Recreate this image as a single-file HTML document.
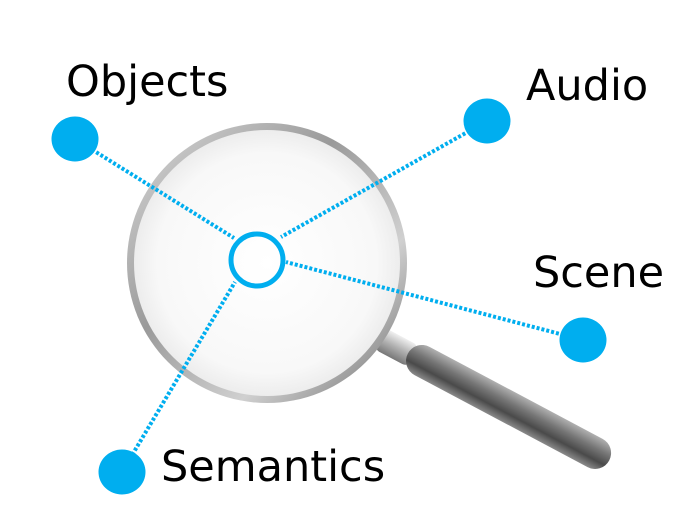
<!DOCTYPE html>
<html><head><meta charset="utf-8"><style>
html,body{margin:0;padding:0;background:#fff;}
svg{display:block}
text{font-family:"DejaVu Sans","Liberation Sans",sans-serif;font-size:43px;fill:#000}
</style></head><body>
<svg width="693" height="526" viewBox="0 0 693 526" xmlns="http://www.w3.org/2000/svg">
<defs>
<radialGradient id="glass" cx="0.5" cy="0.5" r="0.55">
<stop offset="0" stop-color="#ffffff"/><stop offset="0.75" stop-color="#f8f8f8"/><stop offset="1" stop-color="#e6e6e6"/>
</radialGradient>
<linearGradient id="rim" x1="0" y1="0" x2="1" y2="1">
<stop offset="0" stop-color="#dadada"/><stop offset="0.4" stop-color="#9a9a9a"/><stop offset="0.7" stop-color="#d0d0d0"/><stop offset="1" stop-color="#6a6a6a"/>
</linearGradient>
<linearGradient id="handle" x1="0" y1="0" x2="0" y2="1">
<stop offset="0" stop-color="#b0b0b0"/><stop offset="0.35" stop-color="#777"/><stop offset="0.7" stop-color="#4a4a4a"/><stop offset="1" stop-color="#8a8a8a"/>
</linearGradient>
<linearGradient id="collar" x1="0" y1="0" x2="0" y2="1">
<stop offset="0" stop-color="#f0f0f0"/><stop offset="0.5" stop-color="#b0b0b0"/><stop offset="1" stop-color="#777"/>
</linearGradient>
</defs>
<g transform="rotate(28 392 345)">
<rect x="378" y="333" width="38" height="24" rx="6" fill="url(#collar)"/>
<rect x="410" y="329" width="228" height="32" rx="16" fill="url(#handle)"/>
</g>
<circle cx="267" cy="263" r="140" fill="url(#rim)"/>
<circle cx="267" cy="263" r="133" fill="url(#glass)"/>
<g stroke="#00aeef" stroke-width="4" stroke-dasharray="3 2" fill="none">
<line x1="75" y1="139" x2="234" y2="238"/>
<line x1="487" y1="121" x2="281" y2="237"/>
<line x1="583" y1="340" x2="286" y2="262"/>
<line x1="122" y1="472" x2="235" y2="282"/>
</g>
<circle cx="257" cy="260" r="26" fill="none" stroke="#00aeef" stroke-width="5"/>
<g fill="#00aeef">
<ellipse cx="75" cy="139" rx="23.5" ry="22.5"/>
<ellipse cx="487" cy="121" rx="23.5" ry="22.5"/>
<ellipse cx="583" cy="340" rx="23.5" ry="22.5"/>
<ellipse cx="122" cy="472" rx="23.5" ry="22.5"/>
</g>
<text x="66" y="96">Objects</text>
<text x="526" y="100">Audio</text>
<text x="533" y="287">Scene</text>
<text x="161" y="481">Semantics</text>
</svg>
</body></html>
